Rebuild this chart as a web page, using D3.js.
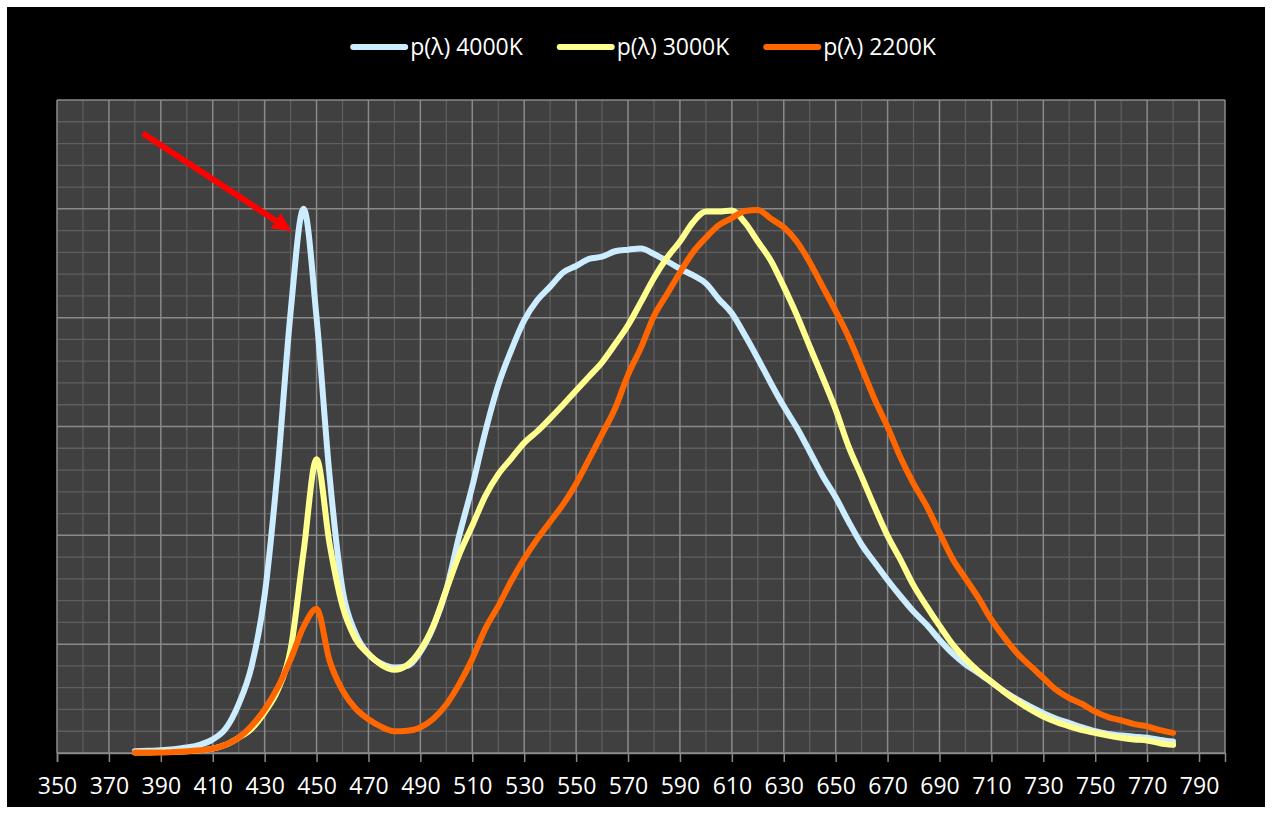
<!DOCTYPE html>
<html>
<head>
<meta charset="utf-8">
<script src="https://cdn.jsdelivr.net/npm/d3@7"></script>
<style>
  html, body { margin: 0; padding: 0; background: #fff; }
  svg { display: block; }
  text { font-family: "Open Sans", "Liberation Sans", sans-serif; fill: #fff; }
</style>
</head>
<body>
<svg id="chart" width="1272" height="814"></svg>
<script>
// wavelength grid (nm), 5 nm steps
var wavelengths = d3.range(380, 781, 5);

// relative spectral power
var p4000 = [0.003, 0.004, 0.005, 0.007, 0.010, 0.015, 0.025, 0.045, 0.09, 0.16,
  0.29, 0.52, 0.81, 1.00, 0.80, 0.51, 0.30, 0.22, 0.182, 0.164,
  0.157, 0.16, 0.186, 0.232, 0.30, 0.40, 0.49, 0.59, 0.676, 0.74,
  0.795, 0.832, 0.857, 0.883, 0.895, 0.908, 0.912, 0.922, 0.925, 0.927,
  0.917, 0.904, 0.89, 0.878, 0.863, 0.834, 0.808, 0.768, 0.725, 0.68,
  0.637, 0.598, 0.554, 0.509, 0.47, 0.425, 0.383, 0.35, 0.318, 0.288,
  0.26, 0.236, 0.208, 0.183, 0.163, 0.147, 0.13, 0.113, 0.098, 0.085,
  0.073, 0.063, 0.055, 0.047, 0.04, 0.035, 0.032, 0.03, 0.028, 0.024, 0.021];

var p3000 = [0.001, 0.001, 0.002, 0.002, 0.003, 0.005, 0.008, 0.015, 0.028, 0.045,
  0.075, 0.115, 0.19, 0.37, 0.54, 0.385, 0.27, 0.21, 0.182, 0.162,
  0.153, 0.162, 0.189, 0.234, 0.30, 0.365, 0.418, 0.472, 0.512, 0.541,
  0.57, 0.591, 0.615, 0.64, 0.666, 0.692, 0.718, 0.751, 0.786, 0.829,
  0.873, 0.91, 0.94, 0.975, 0.995, 0.995, 0.997, 0.975, 0.94, 0.905,
  0.857, 0.805, 0.747, 0.69, 0.631, 0.563, 0.508, 0.452, 0.399, 0.355,
  0.308, 0.27, 0.234, 0.2, 0.173, 0.15, 0.131, 0.112, 0.095, 0.08,
  0.067, 0.057, 0.049, 0.042, 0.037, 0.032, 0.028, 0.025, 0.023, 0.018, 0.015];

var p2200 = [0.001, 0.001, 0.001, 0.002, 0.003, 0.005, 0.008, 0.015, 0.028, 0.05,
  0.08, 0.12, 0.172, 0.232, 0.265, 0.17, 0.115, 0.082, 0.062, 0.048,
  0.04, 0.041, 0.047, 0.063, 0.089, 0.127, 0.173, 0.228, 0.27, 0.316,
  0.357, 0.393, 0.425, 0.457, 0.495, 0.54, 0.586, 0.633, 0.695, 0.745,
  0.803, 0.843, 0.883, 0.92, 0.947, 0.97, 0.983, 0.996, 0.998, 0.982,
  0.966, 0.94, 0.902, 0.857, 0.812, 0.764, 0.708, 0.65, 0.599, 0.543,
  0.495, 0.454, 0.405, 0.357, 0.321, 0.285, 0.245, 0.212, 0.183, 0.16,
  0.138, 0.116, 0.101, 0.09, 0.076, 0.066, 0.06, 0.053, 0.049, 0.042, 0.037];

var seriesNames = ['p(λ) 4000K', 'p(λ) 3000K', 'p(λ) 2200K'];
var seriesColors = ['#ccecff', '#ffff8f', '#ff6600'];
var seriesValues = [p4000, p3000, p2200];

var xTicks = d3.range(350, 791, 20);
// annotation arrow: [wavelength, value] start and tip
var arrowFrom = [383, 1.139];
var arrowTo = [440.4, 0.959];

var W = 1272, H = 814;
var margin = { left: 57, right: 47, top: 100, bottom: 61 };

var svg = d3.select('#chart');

svg.append('rect')
  .attr('x', 7).attr('y', 7)
  .attr('width', W - 14).attr('height', H - 14)
  .attr('fill', '#000');

var x = d3.scaleLinear()
  .domain([350, 800])
  .range([margin.left, W - margin.right]);

var y = d3.scaleLinear()
  .domain([0, 1.2])
  .range([H - margin.bottom, margin.top]);

svg.append('rect')
  .attr('x', x(350)).attr('y', y(1.2))
  .attr('width', x(800) - x(350)).attr('height', y(0) - y(1.2))
  .attr('fill', '#404040');

var grid = svg.append('g');

// minor grid
grid.selectAll('.vminor')
  .data(d3.range(360, 800, 20))
  .enter().append('line')
    .attr('x1', d => x(d)).attr('x2', d => x(d))
    .attr('y1', y(0)).attr('y2', y(1.2))
    .attr('stroke', '#5e5e5e').attr('stroke-width', 1.3);

grid.selectAll('.hminor')
  .data(d3.range(0, 1.2001, 0.04).filter((d, i) => i % 5 !== 0))
  .enter().append('line')
    .attr('x1', x(350)).attr('x2', x(800))
    .attr('y1', d => y(d)).attr('y2', d => y(d))
    .attr('stroke', '#5e5e5e').attr('stroke-width', 1.3);

// major grid
grid.selectAll('.vmajor')
  .data(xTicks.concat([800]))
  .enter().append('line')
    .attr('x1', d => x(d)).attr('x2', d => x(d))
    .attr('y1', y(0)).attr('y2', y(1.2))
    .attr('stroke', '#8a8a8a').attr('stroke-width', 1.5);

grid.selectAll('.hmajor')
  .data(d3.range(0, 1.2001, 0.2))
  .enter().append('line')
    .attr('x1', x(350)).attr('x2', x(800))
    .attr('y1', d => y(d)).attr('y2', d => y(d))
    .attr('stroke', '#8a8a8a').attr('stroke-width', 1.5);

// x axis
var xAxis = svg.append('g')
  .attr('transform', 'translate(0,' + y(0) + ')')
  .call(d3.axisBottom(x).tickValues(xTicks).tickSize(9).tickPadding(16).tickFormat(d3.format('d')));

xAxis.select('.domain').attr('stroke', '#8a8a8a').attr('stroke-width', 1.5);
xAxis.selectAll('.tick line').attr('stroke', '#8a8a8a').attr('stroke-width', 1.5);
xAxis.selectAll('.tick text')
  .attr('fill', '#fff')
  .style('font-family', '"Open Sans", sans-serif')
  .style('font-size', '23px');

// curves
var line = d3.line()
  .x(d => x(d[0]))
  .y(d => y(d[1]))
  .curve(d3.curveMonotoneX);

seriesValues.forEach((vals, i) => {
  svg.append('path')
    .datum(wavelengths.map((w, j) => [w, vals[j]]))
    .attr('d', line)
    .attr('fill', 'none')
    .attr('stroke', seriesColors[i])
    .attr('stroke-width', 6)
    .attr('stroke-linecap', 'round')
    .attr('stroke-linejoin', 'round');
});

// red arrow
var ax0 = x(arrowFrom[0]), ay0 = y(arrowFrom[1]);
var ax1 = x(arrowTo[0]), ay1 = y(arrowTo[1]);
var ang = Math.atan2(ay1 - ay0, ax1 - ax0);
var headLen = 19, headHalf = 9;
var bx = ax1 - headLen * Math.cos(ang), by = ay1 - headLen * Math.sin(ang);

svg.append('line')
  .attr('x1', ax0).attr('y1', ay0)
  .attr('x2', bx).attr('y2', by)
  .attr('stroke', '#ff0000').attr('stroke-width', 6);

svg.append('path')
  .attr('d', 'M' + ax1 + ',' + ay1 +
    'L' + (bx + headHalf * Math.sin(ang)) + ',' + (by - headHalf * Math.cos(ang)) +
    'L' + (bx - headHalf * Math.sin(ang)) + ',' + (by + headHalf * Math.cos(ang)) + 'Z')
  .attr('fill', '#ff0000');

// legend
var legend = svg.append('g');
var entries = legend.selectAll('g')
  .data(seriesNames)
  .enter().append('g');

entries.append('line')
  .attr('x1', 0).attr('x2', 52)
  .attr('y1', 0).attr('y2', 0)
  .attr('stroke', (d, i) => seriesColors[i])
  .attr('stroke-width', 6)
  .attr('stroke-linecap', 'round');

entries.append('text')
  .attr('x', 57)
  .attr('y', 0)
  .attr('dy', '0.35em')
  .style('font-size', '23px')
  .text(d => d);

var offs = 0;
entries.each(function () {
  var w = this.getBBox().width;
  d3.select(this).attr('transform', 'translate(' + offs + ',0)');
  offs += w + 36;
});
var totalW = offs - 36;
legend.attr('transform', 'translate(' + (645 - totalW / 2) + ',47)');
</script>
</body>
</html>
